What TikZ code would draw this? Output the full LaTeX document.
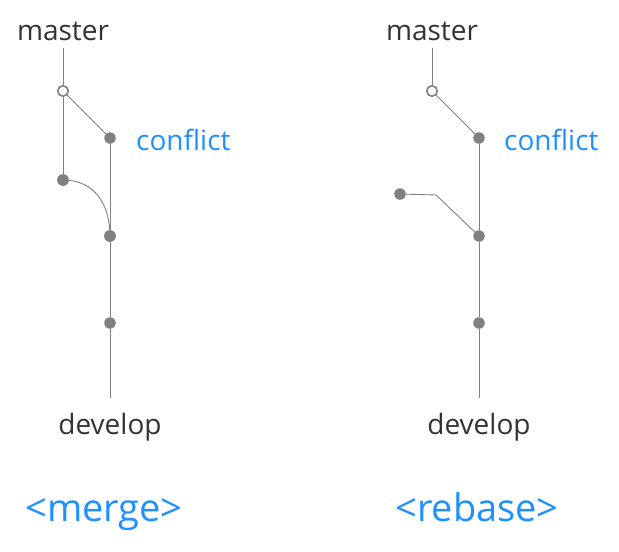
\documentclass[tikz,border=0pt]{standalone}
\usepackage{fontspec}
\setmainfont{Open Sans}
\begin{document}
\begin{tikzpicture}[x=1pt,y=-1pt,
  lbl/.style={text=black!80, font=\fontsize{28}{32}\selectfont, inner sep=0pt, anchor=base},
  blbl/.style={text=bluec, font=\fontsize{28}{32}\selectfont, inner sep=0pt, anchor=base west},
  big/.style={text=bluec, font=\fontsize{38}{44}\selectfont, inner sep=0pt, anchor=base},
  dot/.style={circle, fill=gray, inner sep=0pt, minimum size=11.5pt},
  odot/.style={circle, draw=gray, fill=white, line width=1.6pt, inner sep=0pt, minimum size=10.5pt},
  ln/.style={draw=gray, line width=0.9pt}]
\definecolor{bluec}{RGB}{30,144,255}
\useasboundingbox (0,0) rectangle (619,552);
% ---- merge ----
\node[lbl] (m1) at (63,40) {master};
\coordinate (m1top) at (63,48);
\node[odot] (o1) at (63,91) {};
\node[dot] (c1) at (110,138) {};
\node[dot] (a1) at (63,180) {};
\node[dot] (b1) at (110,236) {};
\node[dot] (d1) at (110,323) {};
\coordinate (e1) at (110,398);
\node[blbl] (cf1) at (136,150) {conflict};
\node[lbl] (dv1) at (110,434) {develop};
\node[big] (mg) at (104,521) {<merge>};
\draw[ln] (m1top) -- (o1);
\draw[ln] (o1) -- (a1);
\draw[ln] (o1) -- (c1);
\draw[ln] (c1) -- (b1) -- (d1) -- (e1);
\draw[ln] (a1.center) .. controls (95,180) and (110,205) .. (b1.center);
\node[dot] at (a1) {};
\node[dot] at (b1) {};
% ---- rebase ----
\node[lbl] (m2) at (432,40) {master};
\coordinate (m2top) at (432,48);
\node[odot] (o2) at (432,91) {};
\node[dot] (c2) at (479,138) {};
\node[dot] (a2) at (400,194) {};
\coordinate (k2) at (436,195);
\node[dot] (b2) at (479,236) {};
\node[dot] (d2) at (479,323) {};
\coordinate (e2) at (479,398);
\node[blbl] (cf2) at (504,150) {conflict};
\node[lbl] (dv2) at (479,434) {develop};
\node[big] (rb) at (477,521) {<rebase>};
\draw[ln] (m2top) -- (o2);
\draw[ln] (o2) -- (c2);
\draw[ln] (c2) -- (b2) -- (d2) -- (e2);
\draw[ln] (a2) -- (k2) -- (b2);
\end{tikzpicture}
\end{document}
